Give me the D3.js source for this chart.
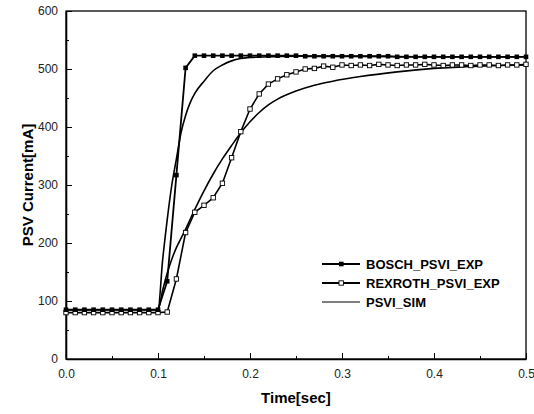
<!DOCTYPE html>
<html>
<head>
<meta charset="utf-8">
<script src="https://cdn.jsdelivr.net/npm/d3@7"></script>
<style>
body { margin: 0; background: #fff; }
svg { font-family: "Liberation Sans", Arial, sans-serif; }
.tick text { font-size: 12px; fill: #222; }
</style>
</head>
<body>
<div id="chart"></div>
<script>
var w = 534;
var h = 414;

// sampling times of the measured curves (sec)
var expTime = [0.00,0.01,0.02,0.03,0.04,0.05,0.06,0.07,0.08,0.09,
  0.10,0.11,0.12,0.13,0.14,0.15,0.16,0.17,0.18,0.19,
  0.20,0.21,0.22,0.23,0.24,0.25,0.26,0.27,0.28,0.29,
  0.30,0.31,0.32,0.33,0.34,0.35,0.36,0.37,0.38,0.39,
  0.40,0.41,0.42,0.43,0.44,0.45,0.46,0.47,0.48,0.49,0.50];

var boschExp = [85,85,85,85,85,85,85,85,85,85,
  85,134,317,502,523,523,523,523,523,523,
  523,523,523,523,523,523,522,522,522,522,
  522,522,522,522,522,522,521,521,521,521,
  521,521,521,521,521,521,521,521,521,521,521];

var rexrothExp = [80,80,80,80,80,80,80,80,80,80,
  80,81,138,218,253,265,278,303,347,392,
  431,457,474,483,490,495,500,501,505,503,
  507,506,507,506,508,507,506,507,507,508,
  507,506,507,507,506,507,507,506,507,507,508];

// simulation, fast valve
var simFastTime = [0.00,0.10,0.105,0.11,0.115,0.12,0.125,0.13,0.135,0.14,0.15,0.16,0.17,0.18,0.19,0.20,0.22,0.25,0.30,0.40,0.50];
var simFast = [85,85,170,240,300,345,390,420,442,458,479,497,507,514,518,520,521,522,522,521,521];

// simulation, slow valve
var simSlowTime = [0.00,0.10,0.105,0.11,0.115,0.12,0.125,0.13,0.14,0.15,0.16,0.17,0.18,0.19,0.20,0.21,0.22,0.23,0.25,0.27,0.29,0.32,0.36,0.40,0.45,0.50];
var simSlow = [85,85,118,148,172,192,208,224,258,290,319,345,368,390,409,425,438,448,462,472,479,487,495,501,505,507];

var xTicks = [0.0,0.1,0.2,0.3,0.4,0.5];
var yTicks = [0,100,200,300,400,500,600];
var legendNames = ["BOSCH_PSVI_EXP","REXROTH_PSVI_EXP","PSVI_SIM"];

var xScale = d3.scaleLinear().domain([0, 0.5]).range([66, 526]);
var yScale = d3.scaleLinear().domain([0, 600]).range([359, 11]);

var svg = d3.select("#chart").append("svg")
  .attr("width", w)
  .attr("height", h);

// frame
svg.append("rect")
  .attr("x", xScale(0)).attr("y", yScale(600))
  .attr("width", xScale(0.5) - xScale(0))
  .attr("height", yScale(0) - yScale(600))
  .attr("fill", "none").attr("stroke", "#000").attr("stroke-width", 1.3);

// minor ticks
svg.append("g")
  .attr("transform", "translate(0," + yScale(0) + ")")
  .call(d3.axisTop(xScale).tickValues([0.05,0.15,0.25,0.35,0.45]).tickSize(3).tickFormat(""))
  .call(function(g){ g.select(".domain").remove(); });
svg.append("g")
  .attr("transform", "translate(" + xScale(0) + ",0)")
  .call(d3.axisRight(yScale).tickValues([50,150,250,350,450,550]).tickSize(3).tickFormat(""))
  .call(function(g){ g.select(".domain").remove(); });

// major ticks, pointing inward
var xAxis = svg.append("g")
  .attr("transform", "translate(0," + yScale(0) + ")")
  .call(d3.axisBottom(xScale).tickValues(xTicks).tickSizeInner(-6).tickSizeOuter(0).tickPadding(10).tickFormat(d3.format(".1f")));
xAxis.select(".domain").attr("stroke-width", 1.6);

var yAxis = svg.append("g")
  .attr("transform", "translate(" + xScale(0) + ",0)")
  .call(d3.axisLeft(yScale).tickValues(yTicks).tickSizeInner(-6).tickSizeOuter(0).tickPadding(8));
yAxis.select(".domain").attr("stroke-width", 1.6);

// axis titles
svg.append("text")
  .attr("x", (xScale(0) + xScale(0.5)) / 2)
  .attr("y", 403)
  .attr("text-anchor", "middle")
  .attr("font-size", 15).attr("font-weight", "bold")
  .text("Time[sec]");

svg.append("text")
  .attr("transform", "translate(33," + ((yScale(0) + yScale(600)) / 2) + ") rotate(-90)")
  .attr("text-anchor", "middle")
  .attr("font-size", 15).attr("font-weight", "bold")
  .text("PSV Current[mA]");

var line = d3.line()
  .x(function(d){ return xScale(d[0]); })
  .y(function(d){ return yScale(d[1]); });
var smooth = d3.line()
  .curve(d3.curveMonotoneX)
  .x(function(d){ return xScale(d[0]); })
  .y(function(d){ return yScale(d[1]); });

var boschPts = d3.zip(expTime, boschExp);
var rexPts = d3.zip(expTime, rexrothExp);

// simulation curves
svg.append("path").datum(d3.zip(simFastTime, simFast))
  .attr("d", smooth).attr("fill", "none").attr("stroke", "#000").attr("stroke-width", 1.6);
svg.append("path").datum(d3.zip(simSlowTime, simSlow))
  .attr("d", smooth).attr("fill", "none").attr("stroke", "#000").attr("stroke-width", 1.6);

// measured curves
svg.append("path").datum(rexPts)
  .attr("d", line).attr("fill", "none").attr("stroke", "#000").attr("stroke-width", 1.6);
svg.append("path").datum(boschPts)
  .attr("d", line).attr("fill", "none").attr("stroke", "#000").attr("stroke-width", 1.8);

svg.selectAll(".rexMark").data(rexPts).enter().append("rect")
  .attr("class", "rexMark")
  .attr("x", function(d){ return xScale(d[0]) - 2.2; })
  .attr("y", function(d){ return yScale(d[1]) - 2.2; })
  .attr("width", 4.4).attr("height", 4.4)
  .attr("fill", "#fff").attr("stroke", "#000").attr("stroke-width", 0.9);

svg.selectAll(".boschMark").data(boschPts).enter().append("rect")
  .attr("class", "boschMark")
  .attr("x", function(d){ return xScale(d[0]) - 2.3; })
  .attr("y", function(d){ return yScale(d[1]) - 2.3; })
  .attr("width", 4.6).attr("height", 4.6)
  .attr("fill", "#000");

// legend
var legend = svg.append("g").attr("transform", "translate(322,264)");
legendNames.forEach(function(name, i){
  var gy = i * 19;
  legend.append("line")
    .attr("x1", 0).attr("x2", 38).attr("y1", gy).attr("y2", gy)
    .attr("stroke", "#000").attr("stroke-width", i === 2 ? 1.1 : 1.8);
  if (i === 0) {
    legend.append("rect").attr("x", 17).attr("y", gy - 2.3).attr("width", 4.6).attr("height", 4.6).attr("fill", "#000");
  } else if (i === 1) {
    legend.append("rect").attr("x", 17).attr("y", gy - 2.2).attr("width", 4.4).attr("height", 4.4)
      .attr("fill", "#fff").attr("stroke", "#000").attr("stroke-width", 0.9);
  }
  legend.append("text")
    .attr("x", 44).attr("y", gy + 5)
    .attr("font-size", 13).attr("font-weight", "bold")
    .text(name);
});
</script>
</body>
</html>
